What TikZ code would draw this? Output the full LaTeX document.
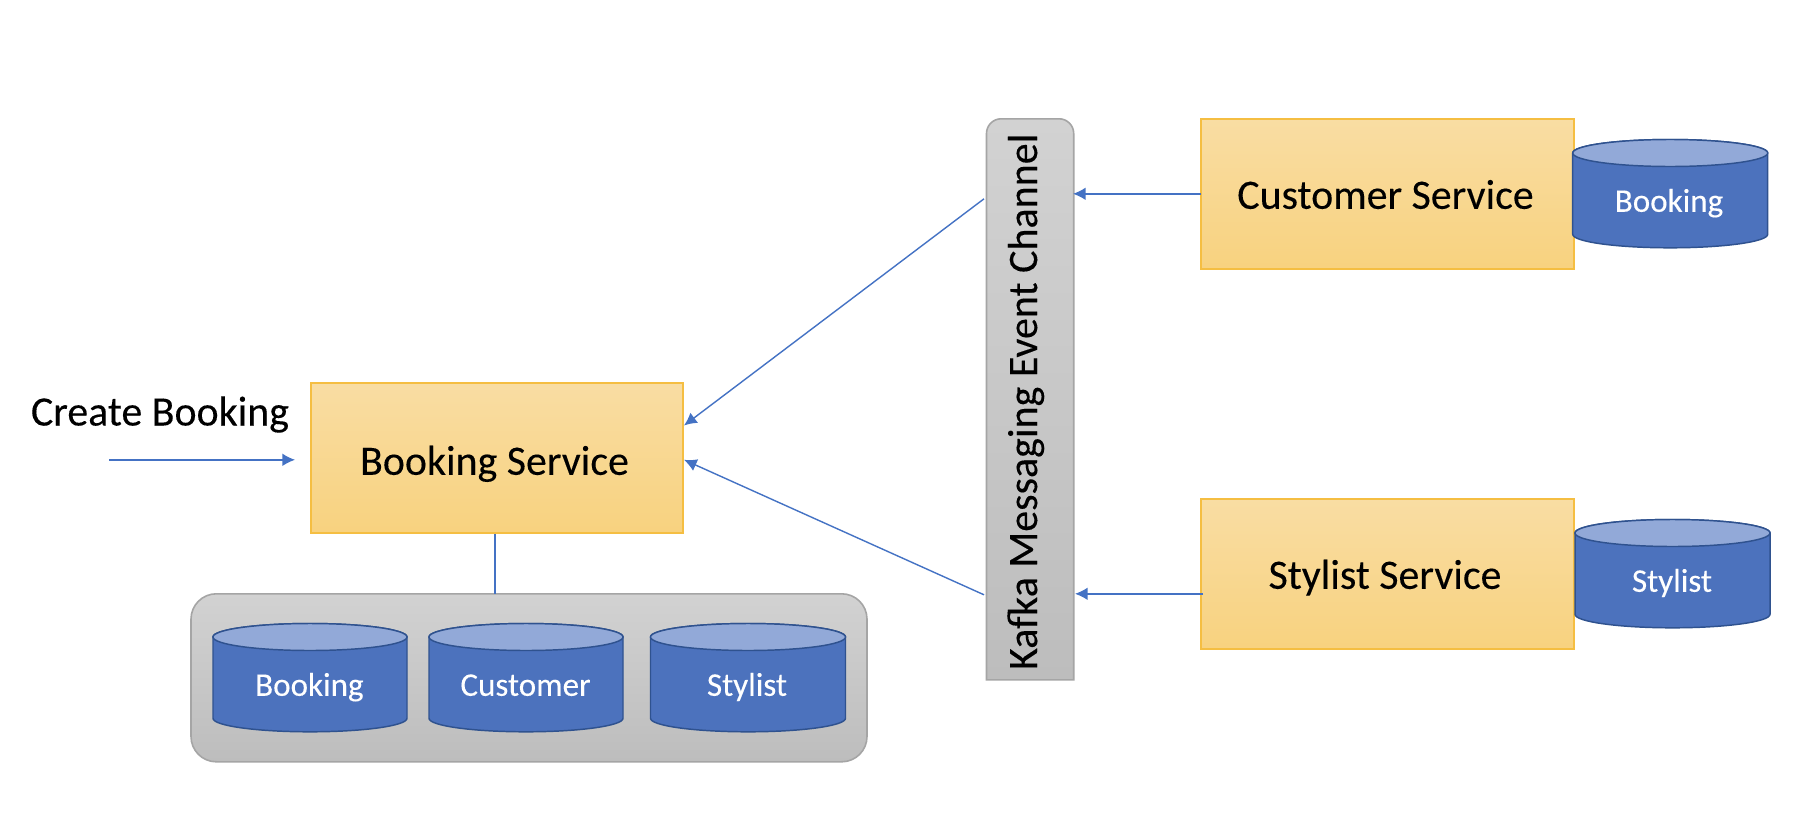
\documentclass[tikz,border=0pt]{standalone}
\usepackage{fontspec}
\setmainfont{Carlito}[FakeBold=0.2]
\newfontfamily\labelfont{Carlito}[FakeBold=0.2]
\usetikzlibrary{arrows.meta}
\definecolor{linkblue}{HTML}{4472C4}
\definecolor{cylbody}{HTML}{4C72BD}
\definecolor{cyltop}{HTML}{92A9D8}
\definecolor{cylline}{HTML}{2F528F}
\tikzset{
  x=0.75pt,y=-0.75pt,
  svcbox/.style={draw=svcline,line width=1.5pt,top color=svctop,bottom color=svcbot,minimum width=279.5pt,minimum height=112.4pt,inner sep=0pt},
  svclabel/.style={anchor=base,font=\labelfont\fontsize{31.4}{34}\selectfont,text=black},
  dblabel/.style={anchor=base,font=\labelfont\fontsize{24.8}{28}\selectfont,text=white},
  link/.style={draw=linkblue,line width=1.05pt,-{Latex[length=9.5pt,width=9.5pt]}},
  plainlink/.style={draw=linkblue,line width=0.9pt},
  greypanel/.style={draw=panelline,line width=1.2pt,top color=paneltop,bottom color=panelbot},
}
\definecolor{svcline}{HTML}{F5BE42}
\definecolor{svctop}{HTML}{F9DDA3}
\definecolor{svcbot}{HTML}{F8D27F}
\definecolor{panelline}{HTML}{A5A5A5}
\definecolor{paneltop}{HTML}{D2D2D2}
\definecolor{panelbot}{HTML}{BDBDBD}
% #1 left, #2 right, #3 top, #4 bottom, #5 label x, #6 node name, #7 text
\newcommand{\dbcyl}[7]{%
  \pgfmathsetmacro{\cx}{(#1+#2)/2}\pgfmathsetmacro{\rx}{(#2-#1)/2}%
  \path[fill=cylbody,draw=cylline,line width=1.1pt]
    (#1,#3+13.5) -- (#1,#4-13.5) arc[start angle=180,end angle=360,x radius=\rx,y radius=-13.5]
    -- (#2,#3+13.5) arc[start angle=0,end angle=180,x radius=\rx,y radius=-13.5] -- cycle;
  \path[fill=cyltop,draw=cylline,line width=1.1pt] (\cx,#3+13.5) ellipse[x radius=\rx,y radius=13.5];
  \node[dblabel] (#6) at (#5,#4-36) {#7};%
}
\begin{document}
\begin{tikzpicture}
\useasboundingbox (0,0) rectangle (1816,828);
\fill[white] (0,0) rectangle (1816,828);

\begin{scope}[yshift=-0.6pt]
% services
\node[svcbox] (booking) at (497,457) {};
\node[svcbox] (customer) at (1387.3,193.5) {};
\node[svcbox] (stylist) at (1387.3,573.5) {};
\node[svclabel] (bookingtext) at (494.5,474) {Booking Service};
\node[svclabel] (customertext) at (1385.5,208) {Customer Service};
\node[svclabel] (stylisttext) at (1385,588) {Stylist Service};
\node[svclabel,anchor=base] (create) at (160,424.7) {Create Booking};

% store panel
\node[greypanel,rounded corners=19pt,minimum width=507pt,minimum height=126pt,inner sep=0pt] (panel) at (529,677) {};
\dbcyl{213}{407}{622.7}{731}{309.4}{dba}{Booking}
\dbcyl{429}{623}{622.7}{731}{525.5}{dbb}{Customer}
\dbcyl{650.5}{845.5}{622.7}{731}{747}{dbc}{Stylist}
\dbcyl{1572.7}{1767.7}{138.7}{247}{1669}{dbd}{Booking}
\dbcyl{1575}{1770}{518.7}{627}{1672}{dbe}{Stylist}

% kafka channel
\path[greypanel] (986.5,679) [rounded corners=11pt] -- (986.5,118) -- (1073.7,118) [sharp corners] -- (1073.7,679) -- cycle;
\node[anchor=base,rotate=90,font=\labelfont\fontsize{31.5}{34}\selectfont,text=black] (kafka) at (1037,401) {Kafka Messaging Event Channel};

% connector ends
\coordinate (cstart) at (1201,193);
\coordinate (kc) at (1073,193);
\coordinate (sstart) at (1203,593);
\coordinate (ks) at (1075,593);
\coordinate (ka) at (984,198);
\coordinate (ba) at (684,424.7);
\coordinate (kb) at (984,594);
\coordinate (bb) at (684,459);
\coordinate (cin) at (109,459);
\coordinate (cend) at (295,459);
\coordinate (bdown) at (495,533);
\coordinate (pup) at (495,593);

\draw[link] (cstart) -- (kc);
\draw[link] (sstart) -- (ks);
\draw[link] (ka) -- (ba);
\draw[link] (kb) -- (bb);
\draw[link] (cin) -- (cend);
\draw[plainlink] (bdown) -- (pup);
\end{scope}
\end{tikzpicture}
\end{document}
